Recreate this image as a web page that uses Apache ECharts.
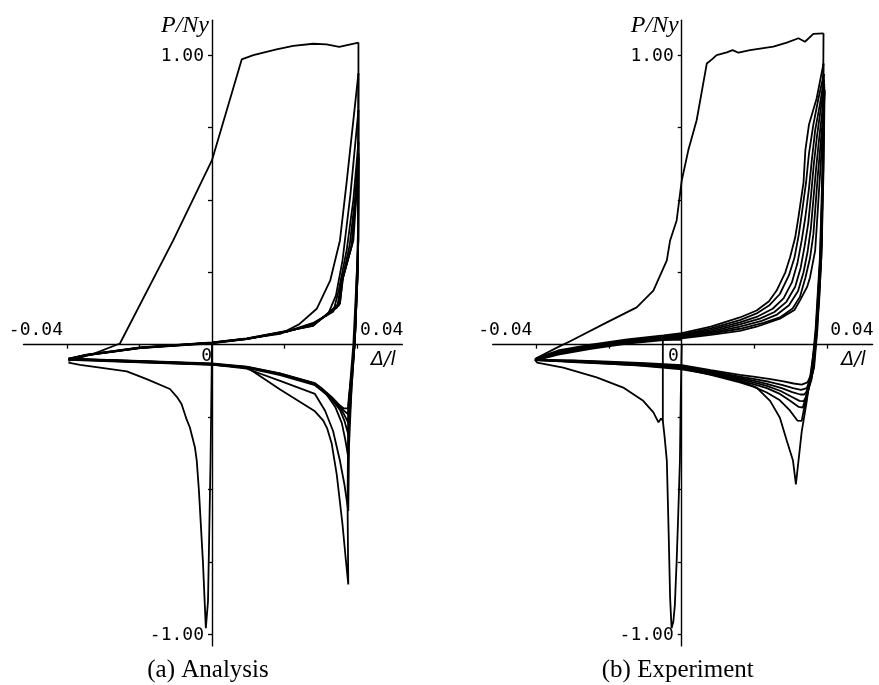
<!DOCTYPE html>
<html>
<head>
<meta charset="utf-8">
<script src="https://cdn.jsdelivr.net/npm/echarts@6/dist/echarts.min.js"></script>
<style>html,body{margin:0;padding:0;background:#fff}#main{width:879px;height:685px}</style>
</head>
<body>
<div id="main"></div>
<script>
// ---------- axis ticks / labels ----------
const xTickValues = [-0.04, -0.02, 0.02, 0.04];
const yTickValues = [-1, -0.75, -0.5, -0.25, 0.25, 0.5, 0.75, 1];
const xLabelValues = [-0.04, 0, 0.04];
const xLabelTexts = ['-0.04', '0', '0.04'];
const yLabelValues = [-1, 1];
const yLabelTexts = ['-1.00', '1.00'];
const xName = 'Δ/l';
const yName = 'P/Ny';
const captions = ['(a) Analysis', '(b) Experiment'];

// ---------- (a) Analysis ----------
const anaComp1 = [[0,0],[-0.0004,-0.40],[-0.0011,-0.886],[-0.0017,-0.979],[-0.0025,-0.75],[-0.0036,-0.505],[-0.0042,-0.401],[-0.0047,-0.355],[-0.0061,-0.286],[-0.0070,-0.258],[-0.0084,-0.205],[-0.0097,-0.180],[-0.0116,-0.153],[-0.0180,-0.119],[-0.0235,-0.092],[-0.0309,-0.079],[-0.0364,-0.070],[-0.0396,-0.062]];
const anaTens1 = [[-0.0396,-0.056],[-0.0327,-0.032],[-0.0254,0.004],[-0.0107,0.360],[0,0.637],[0.0082,0.985],[0.0114,1.000],[0.0178,1.020],[0.0224,1.032],[0.0279,1.039],[0.0316,1.037],[0.0351,1.028],[0.0404,1.043]];
const anaComp2 = [[0.0404,1.043],[0.0404,0.360],[0.0390,0.003],[0.0376,-0.217],[0.0374,-0.55],[0.0376,-0.828],[0.0369,-0.74],[0.0360,-0.62],[0.0344,-0.447],[0.0330,-0.34],[0.0318,-0.29],[0.0307,-0.262],[0.0284,-0.230],[0.0188,-0.155],[0.0096,-0.078],[0,-0.070],[-0.0200,-0.061],[-0.0396,-0.052]];
const anaTens2 = [[-0.0396,-0.050],[-0.0346,-0.036],[-0.0199,-0.011],[0,0.007],[0.0096,0.021],[0.0188,0.037],[0.0240,0.070],[0.0289,0.124],[0.0326,0.221],[0.0353,0.360],[0.0372,0.567],[0.0404,0.937]];
const anaComp3 = [[0.0404,0.937],[0.0403,0.40],[0.0394,0.014],[0.0385,-0.15],[0.0378,-0.35],[0.0376,-0.574],[0.0365,-0.48],[0.0353,-0.401],[0.0334,-0.298],[0.0312,-0.228],[0.0284,-0.170],[0.0188,-0.125],[0.0096,-0.083],[0,-0.069],[-0.0200,-0.060],[-0.0396,-0.051]];
const anaTens3 = [[-0.0396,-0.051],[-0.0346,-0.037],[-0.0199,-0.012],[0,0.005],[0.0096,0.019],[0.0206,0.045],[0.0279,0.075],[0.0320,0.105],[0.0342,0.170],[0.0360,0.290],[0.0382,0.520],[0.0404,0.810]];
const anaComp4 = [[0.0404,0.810],[0.0403,0.35],[0.0394,0.012],[0.0385,-0.15],[0.0377,-0.30],[0.0376,-0.390],[0.0368,-0.33],[0.0358,-0.270],[0.0340,-0.215],[0.0315,-0.170],[0.0284,-0.140],[0.0188,-0.105],[0.0096,-0.080],[0,-0.068],[-0.0200,-0.059],[-0.0396,-0.050]];
const anaTens4 = [[-0.0396,-0.050],[-0.0346,-0.036],[-0.0199,-0.012],[0,0.006],[0.0096,0.019],[0.0206,0.044],[0.0279,0.072],[0.0335,0.115],[0.0350,0.190],[0.0372,0.330],[0.0390,0.500],[0.0404,0.700]];
const anaComp5 = [[0.0404,0.700],[0.0403,0.30],[0.0394,0.010],[0.0384,-0.14],[0.0377,-0.25],[0.0376,-0.310],[0.0366,-0.265],[0.0353,-0.225],[0.0330,-0.188],[0.0300,-0.155],[0.0284,-0.138],[0.0188,-0.102],[0.0096,-0.079],[0,-0.067],[-0.0200,-0.058],[-0.0396,-0.050]];
const anaTens5 = [[-0.0396,-0.050],[-0.0346,-0.036],[-0.0199,-0.011],[0,0.006],[0.0096,0.020],[0.0206,0.045],[0.0279,0.070],[0.0345,0.128],[0.0355,0.200],[0.0380,0.345],[0.0396,0.520],[0.0404,0.660]];
const anaComp6 = [[0.0404,0.660],[0.0403,0.28],[0.0394,0.010],[0.0384,-0.13],[0.0377,-0.22],[0.0376,-0.270],[0.0364,-0.240],[0.0353,-0.217],[0.0330,-0.185],[0.0300,-0.152],[0.0284,-0.136],[0.0188,-0.101],[0.0096,-0.078],[0,-0.066],[-0.0200,-0.057],[-0.0396,-0.049]];
const anaTens6 = [[-0.0396,-0.049],[-0.0346,-0.035],[-0.0199,-0.010],[0,0.007],[0.0096,0.020],[0.0206,0.046],[0.0279,0.068],[0.0350,0.135],[0.0358,0.215],[0.0385,0.340],[0.0398,0.540],[0.0404,0.650]];
const anaComp7 = [[0.0404,0.650],[0.0403,0.28],[0.0394,0.010],[0.0384,-0.12],[0.0377,-0.20],[0.0376,-0.240],[0.0364,-0.228],[0.0353,-0.212],[0.0330,-0.182],[0.0300,-0.150],[0.0284,-0.134],[0.0188,-0.100],[0.0096,-0.077],[0,-0.066],[-0.0200,-0.057],[-0.0396,-0.049]];
const anaTens7 = [[-0.0396,-0.049],[-0.0346,-0.035],[-0.0199,-0.010],[0,0.007],[0.0096,0.021],[0.0206,0.047],[0.0279,0.066],[0.0353,0.141],[0.0360,0.225],[0.0387,0.350],[0.0400,0.560],[0.0404,0.645]];
const anaComp8 = [[0.0404,0.645],[0.0403,0.28],[0.0394,0.010],[0.0384,-0.11],[0.0377,-0.19],[0.0376,-0.220],[0.0364,-0.220],[0.0353,-0.210],[0.0330,-0.180],[0.0300,-0.148],[0.0284,-0.133],[0.0188,-0.099],[0.0096,-0.076],[0,-0.065],[-0.0200,-0.056],[-0.0396,-0.048]];
const anaTens8 = [[-0.0396,-0.048],[-0.0346,-0.034],[-0.0199,-0.009],[0,0.008],[0.0096,0.022],[0.0206,0.048],[0.0279,0.065],[0.0353,0.145],[0.0362,0.235],[0.0390,0.360],[0.0401,0.560],[0.0404,0.640]];

// ---------- (b) Experiment ----------
const expComp1 = [[0,0],[-0.0003,-0.20],[-0.0005,-0.40],[-0.0010,-0.60],[-0.0014,-0.747],[-0.0019,-0.90],[-0.0023,-0.955],[-0.0028,-0.979],[-0.0032,-0.874],[-0.0036,-0.65],[-0.0041,-0.401],[-0.0047,-0.32],[-0.0052,-0.262],[-0.0057,-0.255],[-0.0064,-0.268],[-0.0078,-0.234],[-0.0106,-0.194],[-0.0161,-0.148],[-0.0234,-0.113],[-0.0326,-0.079],[-0.0398,-0.062],[-0.0404,-0.050]];
const expEdge = [[-0.0052,-0.262],[-0.0052,-0.10],[-0.0052,0.017],[0,0.017]];
const expTens1 = [[-0.0404,-0.050],[-0.0390,-0.040],[-0.0335,-0.005],[-0.0307,0.012],[-0.0206,0.077],[-0.0124,0.129],[-0.0078,0.187],[-0.0041,0.291],[-0.0032,0.360],[-0.0014,0.429],[0,0.567],[0.0018,0.671],[0.0041,0.775],[0.0069,0.971],[0.0083,0.985],[0.0096,1.000],[0.0124,1.009],[0.0140,1.017],[0.0156,1.008],[0.0188,1.017],[0.0252,1.029],[0.0289,1.043],[0.0321,1.058],[0.0339,1.046],[0.0362,1.073],[0.0390,1.075]];
const expComp2 = [[0.0390,1.075],[0.0388,0.70],[0.0386,0.360],[0.0378,0.15],[0.0367,0.014],[0.0344,-0.194],[0.0330,-0.30],[0.0314,-0.482],[0.0306,-0.40],[0.0289,-0.332],[0.0270,-0.252],[0.0243,-0.194],[0.0206,-0.148],[0.0160,-0.125],[0.0069,-0.100],[0,-0.085],[-0.0115,-0.072],[-0.0225,-0.064],[-0.0330,-0.057],[-0.0400,-0.050]];
const expTens2 = [[-0.0400,-0.046],[-0.0340,-0.020],[-0.0250,0.000],[-0.0150,0.018],[-0.0050,0.032],[0,0.040],[0.0080,0.062],[0.0160,0.094],[0.0206,0.118],[0.0240,0.150],[0.0261,0.187],[0.0285,0.250],[0.0298,0.302],[0.0312,0.370],[0.0321,0.440],[0.0335,0.560],[0.0340,0.671],[0.0350,0.760],[0.0371,0.850],[0.0390,0.971]];
const expComp3 = [[0.0390,0.971],[0.0387,0.60],[0.0380,0.30],[0.0368,0.05],[0.0355,-0.12],[0.0335,-0.230],[0.0330,-0.263],[0.0318,-0.262],[0.0298,-0.228],[0.0270,-0.192],[0.0234,-0.165],[0.0197,-0.145],[0.0160,-0.130],[0.0080,-0.104],[0,-0.082],[-0.0100,-0.072],[-0.0200,-0.066],[-0.0300,-0.060],[-0.0402,-0.052]];
const expTens3 = [[-0.0402,-0.048],[-0.0340,-0.023],[-0.0250,-0.003],[-0.0150,0.015],[-0.0050,0.028],[0,0.036],[0.0080,0.056],[0.0160,0.085],[0.0206,0.108],[0.0240,0.135],[0.0270,0.175],[0.0295,0.240],[0.0310,0.300],[0.0322,0.380],[0.0330,0.450],[0.0342,0.560],[0.0350,0.660],[0.0362,0.760],[0.0376,0.850],[0.0391,0.935]];
const expComp4 = [[0.0391,0.935],[0.0388,0.60],[0.0381,0.30],[0.0369,0.05],[0.0357,-0.12],[0.0337,-0.200],[0.0333,-0.217],[0.0322,-0.215],[0.0300,-0.195],[0.0270,-0.170],[0.0234,-0.150],[0.0197,-0.136],[0.0160,-0.124],[0.0080,-0.100],[0,-0.079],[-0.0100,-0.070],[-0.0200,-0.064],[-0.0300,-0.058],[-0.0402,-0.052]];
const expTens4 = [[-0.0401,-0.050],[-0.0340,-0.026],[-0.0250,-0.006],[-0.0150,0.012],[-0.0050,0.025],[0,0.033],[0.0080,0.051],[0.0160,0.077],[0.0210,0.098],[0.0250,0.124],[0.0280,0.160],[0.0303,0.215],[0.0318,0.280],[0.0330,0.360],[0.0340,0.440],[0.0350,0.540],[0.0358,0.640],[0.0367,0.740],[0.0380,0.830],[0.0391,0.915]];
const expComp5 = [[0.0391,0.915],[0.0388,0.60],[0.0382,0.30],[0.0370,0.05],[0.0358,-0.11],[0.0340,-0.185],[0.0335,-0.195],[0.0324,-0.194],[0.0302,-0.180],[0.0272,-0.160],[0.0234,-0.142],[0.0197,-0.130],[0.0160,-0.119],[0.0080,-0.097],[0,-0.077],[-0.0100,-0.068],[-0.0200,-0.062],[-0.0300,-0.057],[-0.0403,-0.052]];
const expTens5 = [[-0.0402,-0.050],[-0.0340,-0.028],[-0.0250,-0.008],[-0.0150,0.010],[-0.0050,0.022],[0,0.030],[0.0080,0.046],[0.0160,0.070],[0.0215,0.090],[0.0255,0.113],[0.0288,0.148],[0.0312,0.200],[0.0327,0.265],[0.0338,0.340],[0.0348,0.420],[0.0356,0.520],[0.0363,0.620],[0.0372,0.720],[0.0383,0.820],[0.0392,0.900]];
const expComp6 = [[0.0392,0.900],[0.0389,0.60],[0.0383,0.30],[0.0371,0.05],[0.0360,-0.10],[0.0342,-0.165],[0.0337,-0.172],[0.0326,-0.172],[0.0304,-0.164],[0.0275,-0.150],[0.0234,-0.135],[0.0197,-0.124],[0.0160,-0.115],[0.0080,-0.094],[0,-0.075],[-0.0100,-0.067],[-0.0200,-0.061],[-0.0300,-0.056],[-0.0403,-0.053]];
const expTens6 = [[-0.0403,-0.052],[-0.0340,-0.030],[-0.0250,-0.010],[-0.0150,0.008],[-0.0050,0.020],[0,0.027],[0.0080,0.042],[0.0160,0.062],[0.0220,0.082],[0.0262,0.104],[0.0295,0.136],[0.0320,0.185],[0.0335,0.250],[0.0346,0.320],[0.0355,0.400],[0.0362,0.500],[0.0369,0.600],[0.0377,0.700],[0.0386,0.800],[0.0392,0.890]];
const expComp7 = [[0.0392,0.890],[0.0389,0.60],[0.0383,0.30],[0.0372,0.05],[0.0362,-0.09],[0.0344,-0.150],[0.0339,-0.155],[0.0328,-0.156],[0.0306,-0.150],[0.0278,-0.140],[0.0240,-0.128],[0.0197,-0.118],[0.0160,-0.110],[0.0080,-0.091],[0,-0.073],[-0.0100,-0.066],[-0.0200,-0.060],[-0.0300,-0.055],[-0.0404,-0.053]];
const expTens7 = [[-0.0403,-0.053],[-0.0340,-0.032],[-0.0250,-0.012],[-0.0150,0.006],[-0.0050,0.018],[0,0.025],[0.0080,0.038],[0.0160,0.055],[0.0225,0.075],[0.0270,0.094],[0.0305,0.125],[0.0325,0.165],[0.0340,0.230],[0.0353,0.300],[0.0362,0.380],[0.0368,0.480],[0.0374,0.580],[0.0381,0.680],[0.0388,0.780],[0.0393,0.880]];
const expComp8 = [[0.0393,0.880],[0.0390,0.60],[0.0384,0.30],[0.0373,0.05],[0.0364,-0.08],[0.0346,-0.130],[0.0341,-0.136],[0.0330,-0.138],[0.0308,-0.134],[0.0280,-0.127],[0.0240,-0.118],[0.0197,-0.110],[0.0160,-0.104],[0.0080,-0.088],[0,-0.071],[-0.0100,-0.064],[-0.0200,-0.059],[-0.0300,-0.054],[-0.0404,-0.054]];
const expTens8 = [[-0.0404,-0.055],[-0.0340,-0.034],[-0.0250,-0.014],[-0.0150,0.004],[-0.0050,0.016],[0,0.022],[0.0080,0.034],[0.0160,0.048],[0.0206,0.062],[0.0270,0.090],[0.0310,0.120],[0.0325,0.152],[0.0345,0.200],[0.0353,0.233],[0.0367,0.325],[0.0372,0.420],[0.0377,0.520],[0.0382,0.620],[0.0387,0.720],[0.0393,0.870]];

const anaCurves = [anaComp1, anaTens1, anaComp2, anaTens2, anaComp3, anaTens3, anaComp4, anaTens4, anaComp5, anaTens5, anaComp6, anaTens6, anaComp7, anaTens7, anaComp8, anaTens8];
const expCurves = [expComp1, expEdge, expTens1, expComp2, expTens2, expComp3, expTens3, expComp4, expTens4, expComp5, expTens5, expComp6, expTens6, expComp7, expTens7, expComp8, expTens8];

// ---------- chart ----------
const X_MIN = -0.052, X_MAX = 0.0525, Y_MIN = -1.04, Y_MAX = 1.12;
const chart = echarts.init(document.getElementById('main'), null, {renderer: 'canvas'});

function mkX(gi) {
  return {
    type: 'value', gridIndex: gi, min: X_MIN, max: X_MAX,
    axisLine: {onZero: true, lineStyle: {color: '#000', width: 1.4}},
    axisTick: {show: true, customValues: xTickValues, length: 4, lineStyle: {color: '#000', width: 1.3}},
    axisLabel: {show: false},
    splitLine: {show: false}
  };
}
function mkY(gi) {
  return {
    type: 'value', gridIndex: gi, min: Y_MIN, max: Y_MAX,
    axisLine: {onZero: true, lineStyle: {color: '#000', width: 1.4}},
    axisTick: {show: true, customValues: yTickValues, length: 4, lineStyle: {color: '#000', width: 1.3}},
    axisLabel: {show: false},
    splitLine: {show: false}
  };
}
function mkSeries(data, gi) {
  return {
    type: 'line', xAxisIndex: gi, yAxisIndex: gi, data: data,
    showSymbol: false, symbol: 'none', silent: true, animation: false,
    lineStyle: {color: '#000', width: 1.8}
  };
}

const series = anaCurves.map(d => mkSeries(d, 0)).concat(expCurves.map(d => mkSeries(d, 1)));

chart.setOption({
  backgroundColor: '#fff',
  animation: false,
  grid: [
    {left: 23.5, top: 20.3, width: 378.8, height: 625.6, containLabel: false, outerBoundsMode: 'none'},
    {left: 492.7, top: 20.3, width: 379.9, height: 625.6, containLabel: false, outerBoundsMode: 'none'}
  ],
  xAxis: [mkX(0), mkX(1)],
  yAxis: [mkY(0), mkY(1)],
  series: series
});

// ---------- text labels placed through the axes ----------
const monoFont = '18px "DejaVu Sans Mono"';
function txt(x, y, text, font, align, valign) {
  return {type: 'text', x: x, y: y, silent: true,
    style: {text: text, font: font, fill: '#000', align: align, verticalAlign: valign, textAlign: align, textVerticalAlign: valign}};
}
const graphics = [];
[0, 1].forEach(gi => {
  xLabelValues.forEach((v, i) => {
    const p = chart.convertToPixel({gridIndex: gi}, [v, 0]);
    if (v < 0) graphics.push(txt(p[0] - 4, p[1] - 5, xLabelTexts[i], monoFont, 'right', 'bottom'));
    else if (v > 0) graphics.push(txt(p[0] + 3, p[1] - 5, xLabelTexts[i], monoFont, 'left', 'bottom'));
    else graphics.push(txt(p[0] - (gi === 0 ? 0 : 3), p[1] + 3, xLabelTexts[i], monoFont, 'right', 'top'));
  });
  yLabelValues.forEach((v, i) => {
    const p = chart.convertToPixel({gridIndex: gi}, [0, v]);
    graphics.push(txt(p[0] - 8, p[1] + 1, yLabelTexts[i], monoFont, 'right', 'middle'));
  });
  const pEnd = chart.convertToPixel({gridIndex: gi}, [0.04, 0]);
  graphics.push(txt(pEnd[0] + 14, pEnd[1] + 6, xName, 'italic 19px "DejaVu Sans"', 'left', 'top'));
  const pTop = chart.convertToPixel({gridIndex: gi}, [0, Y_MAX]);
  graphics.push(txt(pTop[0] - 3, pTop[1] + 5, yName, 'italic 24px "Liberation Serif"', 'right', 'middle'));
  const pBot = chart.convertToPixel({gridIndex: gi}, [0, -1]);
  graphics.push(txt(pBot[0] - 4, pBot[1] + 36, captions[gi], '25px "Liberation Serif"', 'center', 'middle'));
});
chart.setOption({graphic: graphics});
</script>
</body>
</html>
